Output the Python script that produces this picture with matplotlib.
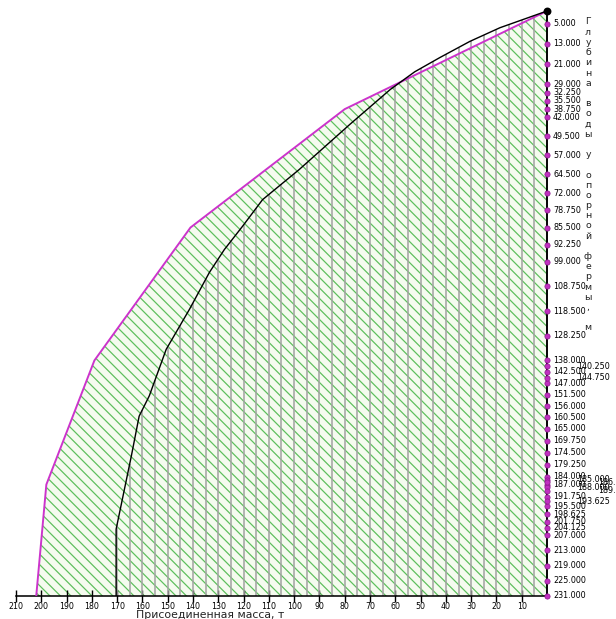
import numpy as np
import matplotlib
matplotlib.use("Agg")
from matplotlib import pyplot as plt

# outer (magenta) curve: depth, m  ->  mass, t
outer_depth = [0, 38.75, 85.5, 138.0, 187.0, 231.0]
outer_mass = [0, 80, 141, 179, 198, 202]

# inner (black) curve
inner_depth = [0, 6.6, 12, 18.4, 24, 31, 44.8, 62.6, 74.5, 85, 94.2, 103.2,
               117.8, 133.6, 152, 160, 175.8, 204.6, 231]
inner_mass = [0, 18.6, 30.5, 42.4, 52.3, 62, 78, 98, 112.5, 120.4, 127.6, 133.5,
              141.4, 150.6, 157.3, 161.3, 164.4, 170.4, 170.4]

# depth marks on the right axis
depths_main = [5, 13, 21, 29, 32.25, 35.5, 38.75, 42, 49.5, 57, 64.5, 72, 78.75,
               85.5, 92.25, 99, 108.75, 118.5, 128.25, 138, 142.5, 147, 151.5,
               156, 160.5, 165, 169.75, 174.5, 179.25, 184, 187, 191.75, 195.5,
               198.625, 201.75, 204.125, 207, 213, 219, 225, 231]
depths_side = [140.25, 144.75, 185, 188, 193.625]
depths_far = [186.0, 189.375]

x_ticks = list(range(210, 0, -10))

DPI = 126
fig = plt.figure(figsize=(616 / DPI, 619 / DPI), dpi=DPI)
ax = fig.add_axes([16 / 616, 23 / 619, 531 / 616, 585 / 619])
ax.set_xlim(210, 0)
ax.set_ylim(231, 0)
plt.rcParams['hatch.linewidth'] = 0.7

green = '#5dbf5d'
ax.fill_betweenx(outer_depth, outer_mass, 0, facecolor='#f5fbef',
                 edgecolor=green, hatch='\\\\\\\\', linewidth=0, zorder=1)

# vertical grey lines inside the black curve
grid_m = np.arange(5, 171, 5)
start = np.interp(grid_m, inner_mass[:-1], inner_depth[:-1])
ax.vlines(grid_m, start, 231, color='#a4a4a4', lw=0.9, zorder=2)

ax.plot(outer_mass, outer_depth, color='#cc33cc', lw=1.1, zorder=3)
ax.plot(inner_mass, inner_depth, color='black', lw=0.8, zorder=3)

for s in ['top', 'left']:
    ax.spines[s].set_visible(False)
ax.spines['bottom'].set_linewidth(0.9)
ax.spines['right'].set_linewidth(1.1)

fam = ['Liberation Sans Narrow', 'DejaVu Sans']
ax.set_xticks(x_ticks)
ax.set_xticklabels([str(t) for t in x_ticks])
ax.tick_params(axis='x', direction='inout', length=7, width=0.8, labelsize=4.5,
               pad=0)
for lab in ax.get_xticklabels():
    lab.set_family(fam)
ax.set_yticks([])

all_d = depths_main + depths_side + depths_far
ax.scatter([0] * len(all_d), all_d, s=9, color='#c030c0', edgecolor='#8a1a8a',
           linewidth=0.4, zorder=5, clip_on=False)
ax.plot([0], [0], 'o', color='black', ms=3.5, zorder=6, clip_on=False)

for d in depths_main:
    ax.annotate(f"{d:.3f}", (0, d), xytext=(6, 0), textcoords='offset pixels',
                va='center', ha='left', fontsize=4.6, family=fam,
                annotation_clip=False)
for d in depths_side:
    ax.annotate(f"{d:.3f}", (0, d), xytext=(30, 0), textcoords='offset pixels',
                va='center', ha='left', fontsize=4.6, family=fam,
                annotation_clip=False)
for d in depths_far:
    ax.annotate(f"{d:.3f}", (0, d), xytext=(51, 0), textcoords='offset pixels',
                va='center', ha='left', fontsize=4.6, family=fam,
                annotation_clip=False)

# vertical title, letters stacked
title = "Глубина воды у опорной фермы, м"
for i, ch in enumerate(title):
    fig.text(588 / 616, 1 - (22 + i * 10.2) / 619, ch, ha='center',
             va='center', fontsize=5.4, color='#222222')

fig.text(210 / 616, 1 - 614.5 / 619, "Присоединенная масса, т", ha='center',
         va='center', fontsize=6.2, color='#222222')

fig.savefig('out.png', dpi=DPI)
